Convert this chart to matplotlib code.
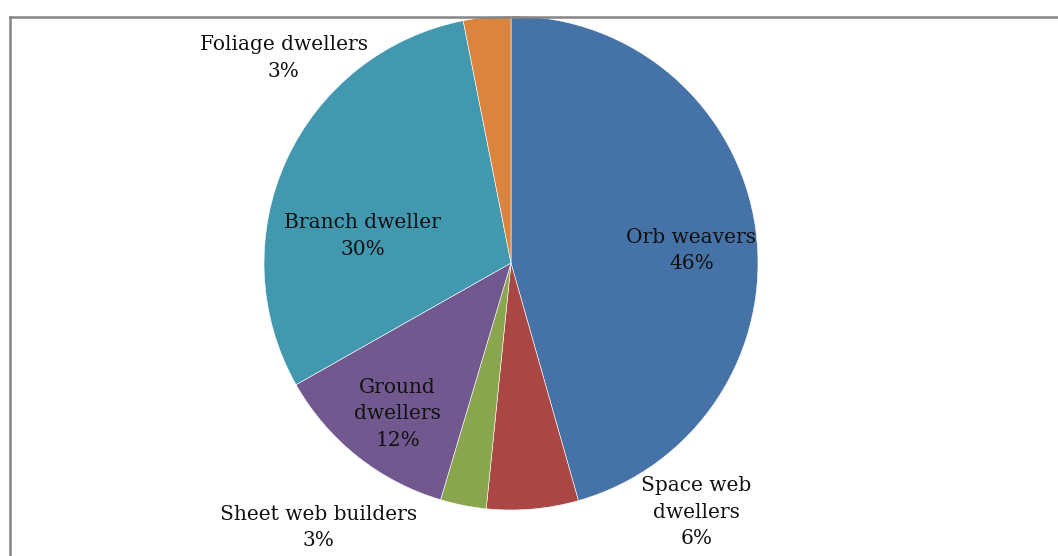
import matplotlib.pyplot as plt
from matplotlib.lines import Line2D

# spider guild composition
guilds = ['Orb weavers', 'Space web\ndwellers', 'Sheet web builders',
          'Ground\ndwellers', 'Branch dweller', 'Foliage dwellers']
shares = [45.6, 6.0, 3.0, 12.2, 30.1, 3.1]
colors = ['#4572A7', '#AA4643', '#89A54E', '#71588F', '#4198AF', '#DB843D']

# label anchor positions (pie radius = 1)
label_pos = [(0.73, 0.05), (0.75, -1.01), (-0.78, -1.07),
             (-0.46, -0.61), (-0.60, 0.11), (-0.92, 0.83)]

W, H = 1058, 556
cx, cy, R = 511, 263, 247

fig = plt.figure(figsize=(W / 100, H / 100), dpi=100)
ax = fig.add_axes([0, 0, 1, 1])
ax.pie(shares, colors=colors, startangle=90, counterclock=False, radius=1,
       wedgeprops=dict(edgecolor='white', linewidth=0.4))
ax.set_xlim(-cx / R, (W - cx) / R)
ax.set_ylim(-(H - cy) / R, cy / R)
ax.set_aspect('auto')
ax.axis('off')

for name, val, (x, y) in zip(guilds, shares, label_pos):
    ax.text(x, y, f'{name}\n{round(val):d}%', ha='center', va='center',
            fontsize=14.5, family='DejaVu Serif', color='#111111',
            linespacing=1.5)

# chart frame (cropped at right and bottom)
frame = dict(color='#858585', linewidth=1.8, transform=fig.transFigure)
fig.add_artist(Line2D([10 / W, 10 / W], [1 - 16.5 / H, 0], **frame))
fig.add_artist(Line2D([10 / W, 1], [1 - 16.5 / H, 1 - 16.5 / H], **frame))

fig.savefig('out.png', dpi=100)
